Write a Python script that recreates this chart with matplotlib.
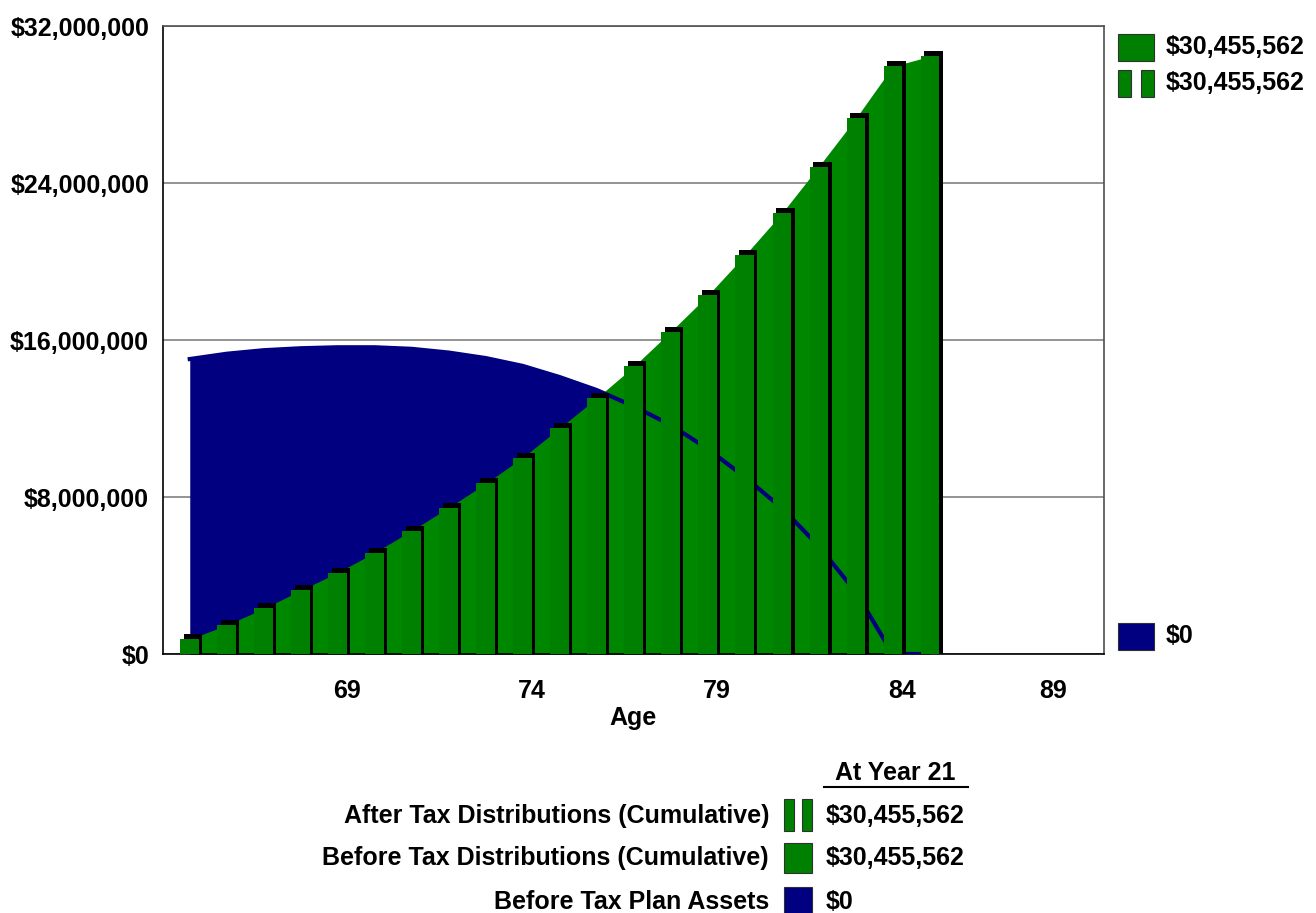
import matplotlib
matplotlib.use("Agg")
import matplotlib.pyplot as plt
import matplotlib.transforms as mtransforms
from matplotlib.patches import Rectangle
from matplotlib.ticker import FuncFormatter


# plan projection, one entry per age
ages = list(range(65, 86))
after_tax_cum = [760000, 1470000, 2320000, 3240000, 4150000, 5170000, 6290000,
                 7460000, 8690000, 10010000, 11520000, 13040000, 14650000, 16430000,
                 18270000, 20310000, 22450000, 24840000, 27290000, 29940000, 30455562]
before_tax_cum = [760000, 1470000, 2320000, 3240000, 4150000, 5170000, 6290000,
                  7460000, 8690000, 10010000, 11520000, 13040000, 14650000, 16430000,
                  18270000, 20310000, 22450000, 24840000, 27290000, 29940000, 30455562]
plan_assets = [15030000, 15300000, 15480000, 15580000, 15630000, 15630000, 15550000,
               15360000, 15080000, 14680000, 14110000, 13450000, 12620000, 11670000,
               10450000, 9020000, 7440000, 5500000, 3160000, 0, 0]

y_ticks = [0, 8000000, 16000000, 24000000, 32000000]
x_ticks = [69, 74, 79, 84, 89]
summary_year = 21

GREEN = "#008000"
GREEN_AREA = "#008700"
NAVY = "#000080"
FS = 18

plt.rcParams["font.family"] = ["Liberation Sans", "DejaVu Sans"]
plt.rcParams["font.weight"] = "bold"

W, H = 1316, 913
fig = plt.figure(figsize=(W / 100, H / 100), dpi=100)


def fx(px):
    return px / W


def fy(py):
    return 1 - py / H


ax = fig.add_axes([fx(163), fy(654), fx(1104 - 163), (654 - 26) / H])

# area series sit in the middle of each bar
centers = [a - 0.25 for a in ages]
ax.fill_between(centers, plan_assets, color=NAVY, lw=0, zorder=1)
ax.fill_between(centers, before_tax_cum, color=GREEN_AREA, lw=0, zorder=2)
ax.plot(centers, plan_assets, color=NAVY, lw=3.0, zorder=3)

# bars with a small black drop shadow up and to the right
shadow_base = -400000
shadow = ax.bar(ages, [v - shadow_base for v in after_tax_cum], bottom=shadow_base,
                width=-0.5, align="edge", color="black", lw=0, zorder=4)
shift = mtransforms.ScaledTranslation(3.5 / 100, 5 / 100, fig.dpi_scale_trans)
for p in shadow:
    p.set_transform(ax.transData + shift)
ax.bar(ages, after_tax_cum, width=-0.5, align="edge", color=GREEN, lw=0, zorder=5)

ax.set_xlim(65 + (163 - 199) / 37, 65 + (1104 - 199) / 37)
ax.set_ylim(0, 32000000)
ax.set_yticks(y_ticks)
ax.yaxis.set_major_formatter(FuncFormatter(lambda v, pos: f"${v:,.0f}"))
ax.set_xticks(x_ticks)
ax.tick_params(axis="both", length=0)
ax.tick_params(axis="y", labelsize=FS, pad=10)
ax.tick_params(axis="x", labelsize=FS, pad=18)
ax.yaxis.grid(True, color="#808080", lw=1.2)
ax.set_axisbelow(True)
ax.set_xlabel("Age", fontsize=FS, fontweight="bold", labelpad=2)

last = ax.xaxis.get_major_ticks()[-1].label1
last.set_transform(last.get_transform() +
                   mtransforms.ScaledTranslation(-34 / 100, 0, fig.dpi_scale_trans))

for side in ["left", "bottom"]:
    ax.spines[side].set_color("black")
for side in ["top", "right"]:
    ax.spines[side].set_color("#505050")
for s in ax.spines.values():
    s.set_linewidth(1.2)


def box(x0, y0, x1, y1, color):
    fig.add_artist(Rectangle((fx(x0), fy(y1)), fx(x1 - x0), (y1 - y0) / H,
                             transform=fig.transFigure, facecolor=color,
                             edgecolor="#303030", lw=0.8))


def split_box(x0, y0, x1, y1, color):
    w = (x1 - x0) * 0.36
    box(x0, y0, x0 + w, y1, color)
    box(x1 - w, y0, x1, y1, color)


final_after = f"${after_tax_cum[summary_year - 1]:,.0f}"
final_before = f"${before_tax_cum[summary_year - 1]:,.0f}"
final_assets = f"${plan_assets[summary_year - 1]:,.0f}"

# end values at the right of the plot
box(1118, 34, 1154, 61, GREEN)
fig.text(fx(1166), fy(47), final_before, fontsize=FS, va="center", ha="left")
split_box(1118, 70, 1154, 97, GREEN)
fig.text(fx(1166), fy(83), final_after, fontsize=FS, va="center", ha="left")
box(1118, 623, 1154, 650, NAVY)
fig.text(fx(1166), fy(636), final_assets, fontsize=FS, va="center", ha="left")

# summary table below the chart
fig.text(fx(895), fy(773), f"At Year {summary_year}", fontsize=FS, ha="center", va="center")
fig.add_artist(plt.Line2D([fx(824), fx(968)], [fy(787), fy(787)], color="black", lw=1.5,
                          transform=fig.transFigure))

rows = [
    ("After Tax Distributions (Cumulative)", final_after, 816, "split", GREEN),
    ("Before Tax Distributions (Cumulative)", final_before, 858, "solid", GREEN),
    ("Before Tax Plan Assets", final_assets, 902, "solid", NAVY),
]
for label, value, yc, kind, color in rows:
    fig.text(fx(769), fy(yc), label, fontsize=FS, ha="right", va="center")
    fig.text(fx(826), fy(yc), value, fontsize=FS, ha="left", va="center")
    if kind == "split":
        split_box(784, yc - 17, 812, yc + 15, color)
    else:
        box(784, yc - 15, 812, yc + 15, color)

fig.savefig("out.png", dpi=100)
